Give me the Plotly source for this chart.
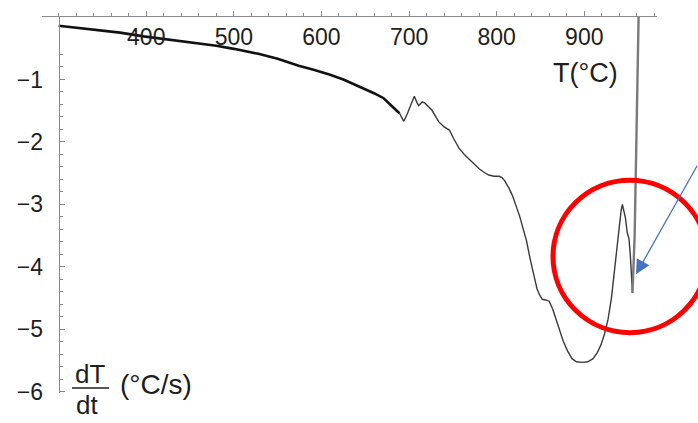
import plotly.graph_objects as go

# ---- data ----
T_left = [300, 320, 345, 370, 397, 430, 460, 480, 500, 528, 550, 574, 590, 609, 625, 643, 660, 671, 681, 689]
dTdt_left = [-0.14, -0.17, -0.21, -0.25, -0.31, -0.37, -0.42, -0.46, -0.51, -0.59, -0.67, -0.78, -0.84,
             -0.92, -1.00, -1.11, -1.22, -1.30, -1.43, -1.54]

T_right = [689, 694, 698, 701, 704, 706, 709, 711, 715, 718, 726, 734, 740, 746, 751, 757, 763, 769, 775,
           780, 786, 791, 797, 803, 806, 809, 814, 818, 822, 826, 830, 834, 838, 842, 846, 849, 852, 856,
           860, 864, 868, 872, 876, 881, 886, 891, 898, 904, 910, 915, 919, 923, 927, 931, 934, 937, 940,
           942, 943.5, 945, 947, 949, 951, 952.5, 954, 955]
dTdt_right = [-1.54, -1.67, -1.55, -1.45, -1.33, -1.27, -1.37, -1.42, -1.36, -1.38, -1.49, -1.68, -1.76,
              -1.81, -1.95, -2.10, -2.20, -2.28, -2.36, -2.43, -2.49, -2.53, -2.55, -2.55, -2.57, -2.62,
              -2.74, -2.86, -3.02, -3.18, -3.38, -3.58, -3.86, -4.10, -4.35, -4.45, -4.52, -4.53, -4.55,
              -4.68, -4.85, -5.03, -5.19, -5.35, -5.47, -5.52, -5.53, -5.52, -5.47, -5.37, -5.25, -5.08,
              -4.85, -4.50, -4.10, -3.70, -3.32, -3.10, -3.00, -3.08, -3.22, -3.45, -3.55, -3.80, -4.20,
              -4.42]

T_spike = [955, 957.5, 962]
dTdt_spike = [-4.42, -3.50, 0.0]

x_tickvals = [400, 500, 600, 700, 800, 900]
y_tickvals = [-6, -5, -4, -3, -2, -1]

# ---- layout geometry ----
W, H = 698, 423
ML, MR, MT, MB = 42, 41, 13, 30
x_range = [281, 983]
y_range = [-6.02, 0]
y_axis_at = 300
FONT = "Liberation Sans, Arial, sans-serif"
TXT = "#1e1e1e"
AX = "#8a8a8a"

pw = W - ML - MR
ph = H - MT - MB


def px(xp, yp):
    return (xp - ML) / pw, (H - MB - yp) / ph


fig = go.Figure()
fig.add_trace(go.Scatter(x=T_left, y=dTdt_left, mode="lines",
                         line=dict(color="#111111", width=2.6), hoverinfo="skip"))
fig.add_trace(go.Scatter(x=T_right, y=dTdt_right, mode="lines",
                         line=dict(color="#3a3a3a", width=1.4), hoverinfo="skip"))
fig.add_trace(go.Scatter(x=T_spike, y=dTdt_spike, mode="lines",
                         line=dict(color="#7a7a7a", width=2.4), hoverinfo="skip"))

ypos = (y_axis_at - x_range[0]) / (x_range[1] - x_range[0])

fig.update_layout(
    width=W, height=H,
    margin=dict(l=ML, r=MR, t=MT, b=MB),
    paper_bgcolor="white", plot_bgcolor="white",
    showlegend=False,
    font=dict(family=FONT, color=TXT),
    xaxis=dict(
        range=x_range, side="top", showgrid=False, zeroline=False,
        showline=True, linecolor=AX, linewidth=1,
        tickmode="array", tickvals=x_tickvals, ticktext=[str(v) for v in x_tickvals],
        ticks="outside", ticklen=5, tickcolor=AX,
        ticklabelposition="inside", ticklabelstandoff=14,
        tickfont=dict(size=23, color=TXT, family=FONT),
        minor=dict(tickmode="linear", tick0=300, dtick=20, ticks="outside", ticklen=3, tickcolor=AX),
    ),
    yaxis=dict(
        range=y_range, anchor="free", position=ypos, showgrid=False, zeroline=False,
        showline=True, linecolor=AX, linewidth=1,
        tickmode="array", tickvals=y_tickvals,
        ticks="inside", ticklen=5, tickcolor=AX,
        ticklabelstandoff=11,
        tickfont=dict(size=23, color=TXT, family=FONT),
        minor=dict(tickmode="linear", tick0=0, dtick=0.2, ticks="inside", ticklen=3, tickcolor=AX),
        automargin=False,
    ),
)

# axis titles
ax_, ay_ = px(585, 70)
fig.add_annotation(x=ax_, y=ay_, xref="paper", yref="paper", text="T(°C)", showarrow=False,
                   font=dict(size=27, color=TXT, family=FONT), xanchor="center", yanchor="middle")
ax_, ay_ = px(90, 374)
fig.add_annotation(x=ax_, y=ay_, xref="paper", yref="paper", text="dT", showarrow=False,
                   font=dict(size=26, color=TXT, family=FONT), xanchor="center", yanchor="middle")
ax_, ay_ = px(87, 405)
fig.add_annotation(x=ax_, y=ay_, xref="paper", yref="paper", text="dt", showarrow=False,
                   font=dict(size=26, color=TXT, family=FONT), xanchor="center", yanchor="middle")
bx0, by = px(72, 388)
bx1, _ = px(109, 388)
fig.add_shape(type="line", xref="paper", yref="paper", x0=bx0, x1=bx1, y0=by, y1=by,
              line=dict(color=TXT, width=1.6))
ax_, ay_ = px(156, 384)
fig.add_annotation(x=ax_, y=ay_, xref="paper", yref="paper", text="(°C/s)", showarrow=False,
                   font=dict(size=28, color=TXT, family=FONT), xanchor="center", yanchor="middle")

# red circle
cx0, cy0 = px(553, 332)
cx1, cy1 = px(707, 178)
fig.add_shape(type="circle", xref="paper", yref="paper", x0=cx0, x1=cx1, y0=cy0, y1=cy1,
              line=dict(color="#ff0000", width=5))

# blue arrow
tx, ty = px(636, 273)
fig.add_annotation(x=tx, y=ty, xref="paper", yref="paper", ax=62, ay=-110, text="",
                   showarrow=True, arrowhead=2, arrowsize=2.2, arrowwidth=1.3, arrowcolor="#4472c4")

fig.write_html("out.html")
